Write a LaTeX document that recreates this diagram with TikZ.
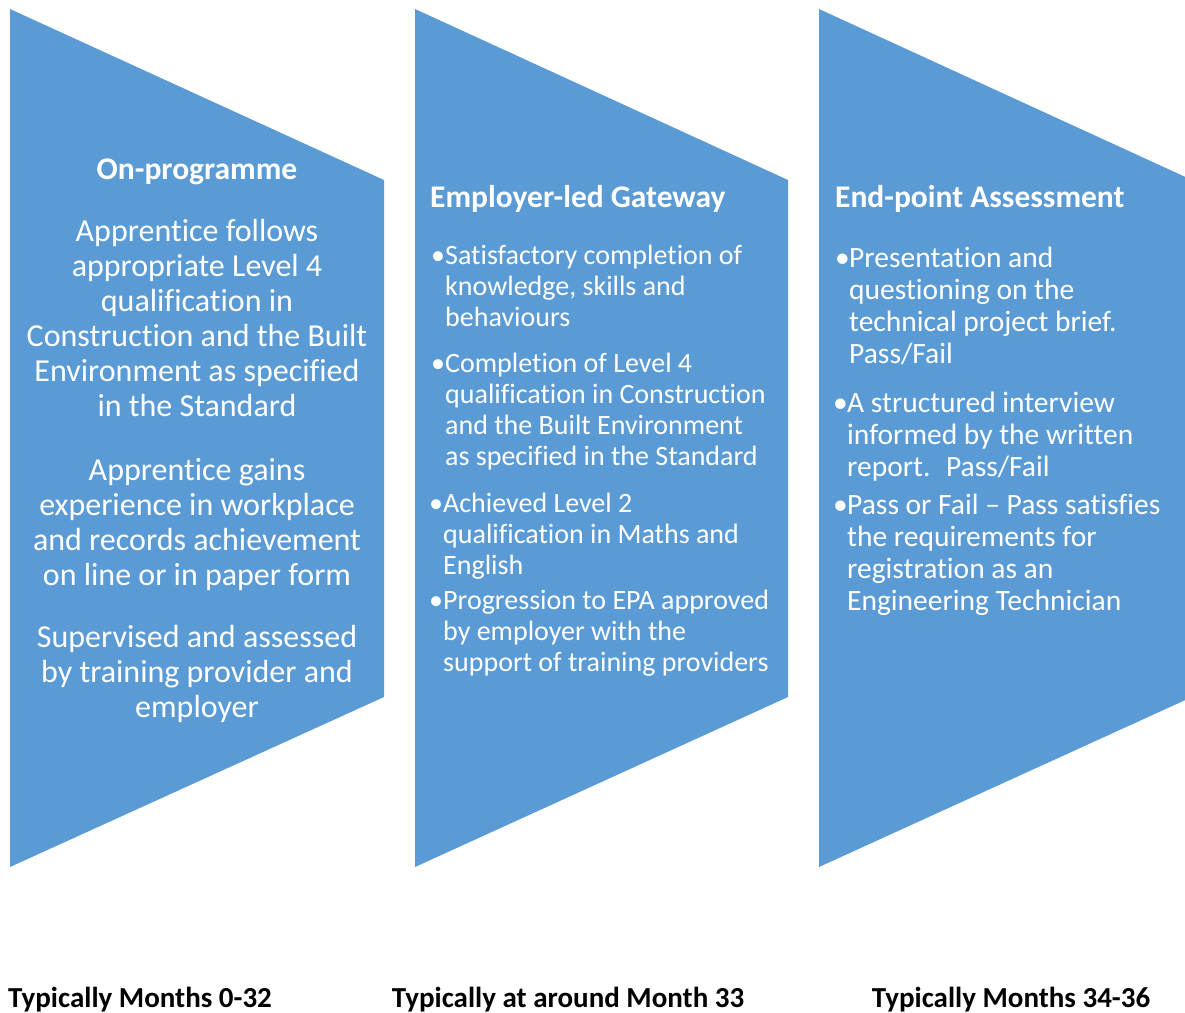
\documentclass[tikz,border=0pt]{standalone}
\usepackage{fontspec}
\setmainfont[Ligatures={TeX,NoCommon}]{Carlito}
\usepackage{tikz}
\definecolor{stageblue}{HTML}{5B9BD5}

\begin{document}
\begin{tikzpicture}[x=1pt,y=-1pt,
    stage/.style={fill=stageblue},
    head/.style={text=white,inner sep=0pt,font=\fontsize{31.5}{36}\selectfont\bfseries},
    para/.style={text=white,inner sep=0pt,align=center,anchor=base,font=\fontsize{32}{35}\selectfont},
    midpt/.style={text=white,inner sep=0pt,align=left,anchor=base west,font=\fontsize{28}{30.7}\selectfont},
    endpt/.style={text=white,inner sep=0pt,align=left,anchor=base west,font=\fontsize{29.5}{32}\selectfont},
    when/.style={inner sep=0pt,anchor=base,font=\fontsize{29}{32}\selectfont\bfseries}]
    \newcommand{\bul}{\llap{\makebox[14pt][l]{\textbullet}}}
            \useasboundingbox (0,0) rectangle (1185,1012);
            \clip (0,0) rectangle (1185,1012);
            % the three stages
            \fill[stage] (10,9) -- (384,180) -- (384,697) -- (10,867) -- cycle;
            \fill[stage] (415,9) -- (788,180) -- (788,697) -- (415,867) -- cycle;
            \fill[stage] (819,9) -- (1192,180) -- (1192,697) -- (819,867) -- cycle;
            % on-programme (base = last line)
            \node[head,anchor=base] (onprog) at (197,179) {On-programme};
            \node[para] (follows) at (197,416)
                {Apprentice follows\\appropriate Level 4\\qualification in\\Construction and the Built\\Environment as specified\\in the Standard};
            \node[para] (gains) at (197,585)
                {Apprentice gains\\experience in workplace\\and records achievement\\on line or in paper form};
            \node[para] (supervised) at (197,717)
                {Supervised and assessed\\by training provider and\\employer};
            % gateway
            \node[head,anchor=base west] (gateway) at (430,207) {Employer-led Gateway};
            \node[midpt] (ksb) at (445,326)
                {\bul Satisfactory completion of\\knowledge, skills and\\behaviours};
            \node[midpt] (level4) at (445,465)
                {\bul Completion of Level 4\\qualification in Construction\\and the Built Environment\\as specified in the Standard};
            \node[midpt] (level2) at (443,574)
                {\bul Achieved Level 2\\qualification in Maths and\\English};
            \node[midpt] (progress) at (443,671)
                {\bul Progression to EPA approved\\by employer with the\\support of training providers};
            % end-point assessment
            \node[head,anchor=base west] (epa) at (835,207) {End-point Assessment};
            \node[endpt] (present) at (849,363)
                {\bul Presentation and\\questioning on the\\technical project brief.\\Pass/Fail};
            \node[endpt] (interview) at (847,476)
                {\bul A structured interview\\informed by the written\\report.~ Pass/Fail};
            \node[endpt] (passfail) at (847,610)
                {\bul Pass or Fail -- Pass satisfies\\the requirements for\\registration as an\\Engineering Technician};
            % timings
            \node[when] (t1) at (140,1007) {Typically Months 0-32};
            \node[when] (t2) at (568,1007) {Typically at around Month 33};
            \node[when] (t3) at (1011,1007) {Typically Months 34-36};
        \end{tikzpicture}
\end{document}
